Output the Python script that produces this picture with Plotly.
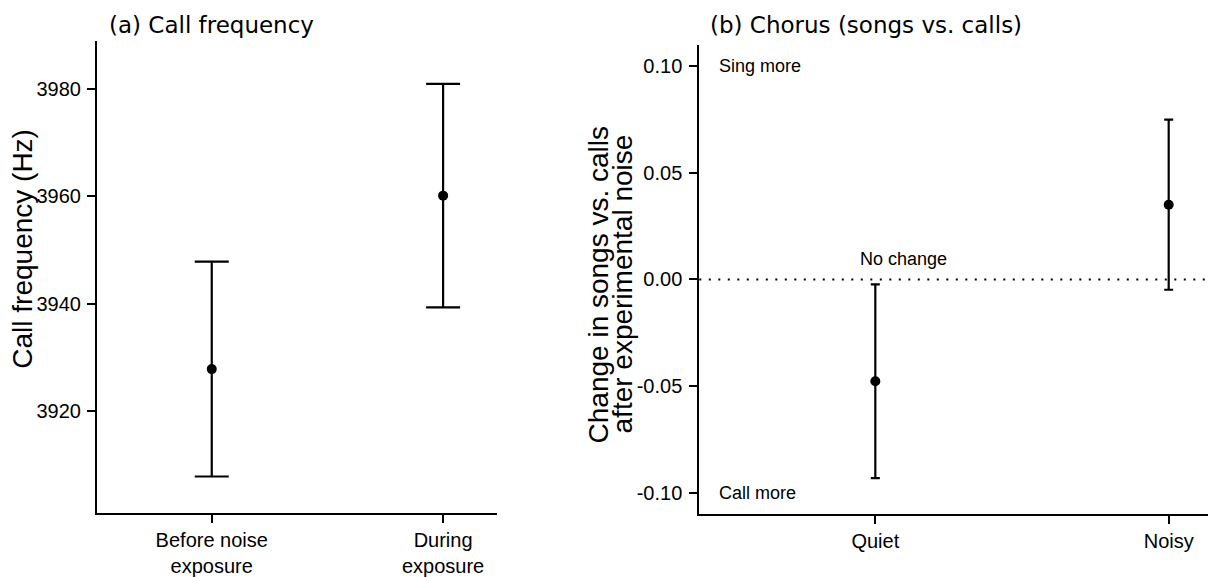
import plotly.graph_objects as go

# ---------------- data ----------------
cats_a = ["Before noise<br>exposure", "During<br>exposure"]
freq_mean = [3927.8, 3960.1]
freq_err_plus = [20.0, 20.8]
freq_err_minus = [20.0, 20.8]

cats_b = ["Quiet", "Noisy"]
chorus_mean = [-0.0476, 0.035]
chorus_err_plus = [0.0453, 0.0398]
chorus_err_minus = [0.0453, 0.0398]

ticks_a = [3920, 3940, 3960, 3980]
ticks_b = [-0.10, -0.05, 0.00, 0.05, 0.10]
ticktext_b = ["-0.10", "-0.05", "0.00", "0.05", "0.10"]

# ---------------- layout helpers ----------------
W, H = 1208, 577
L, R, T, B = 97, 0, 41, 60
PW, PH = W - L - R, H - T - B


def px2x(px):
    return (px - L) / PW


def py2y(py):
    return (H - B - py) / PH


TICKFONT = dict(family="Liberation Sans, Arial, sans-serif", size=20, color="black")
TITLEFONT = dict(family="DejaVu Sans, sans-serif", size=23, color="black")
YTFONT = dict(family="Liberation Sans, Arial, sans-serif", size=28, color="black")
NOTEFONT = dict(family="Liberation Sans, Arial, sans-serif", size=18, color="black")

fig = go.Figure()

fig.add_trace(go.Scatter(
    x=cats_a, y=freq_mean, mode="markers",
    marker=dict(color="black", size=10),
    error_y=dict(type="data", symmetric=False, array=freq_err_plus,
                 arrayminus=freq_err_minus, color="black", thickness=2.2, width=17),
    xaxis="x", yaxis="y", showlegend=False,
))

fig.add_trace(go.Scatter(
    x=cats_b, y=chorus_mean, mode="markers",
    marker=dict(color="black", size=10),
    error_y=dict(type="data", symmetric=False, array=chorus_err_plus,
                 arrayminus=chorus_err_minus, color="black", thickness=2.2, width=4.5),
    xaxis="x2", yaxis="y2", showlegend=False,
))

axis_common = dict(showgrid=False, zeroline=False, showline=True, linecolor="black",
                   linewidth=2, ticks="outside", ticklen=8, tickwidth=2,
                   tickcolor="black", tickfont=TICKFONT)

fig.update_layout(
    width=W, height=H,
    margin=dict(l=L, r=R, t=T, b=B, pad=0),
    paper_bgcolor="white", plot_bgcolor="white",
    xaxis=dict(domain=[0, px2x(497)], type="category", categoryorder="array",
               categoryarray=cats_a, range=[-0.496, 1.233], anchor="y",
               **axis_common),
    yaxis=dict(domain=[py2y(516), 1], range=[3901.0, 3988.9], tickvals=ticks_a,
               anchor="x", ticklabelstandoff=2, **axis_common),
    xaxis2=dict(domain=[px2x(699.3), 1], type="category", categoryorder="array",
                categoryarray=cats_b, range=[-0.6, 1.134], anchor="y2",
                **axis_common),
    yaxis2=dict(domain=[0, py2y(45)], range=[-0.1097, 0.1097], tickvals=ticks_b,
                ticktext=ticktext_b, anchor="x2", ticklabelstandoff=3, **axis_common),
)

# dotted "no change" reference line
fig.add_shape(type="line", xref="x2 domain", x0=0, x1=1, yref="y2", y0=0, y1=0,
              line=dict(color="black", width=2, dash="2px,7.5px"), layer="below")

ann = []
# panel titles
ann.append(dict(text="(a) Call frequency", xref="paper", yref="paper",
                x=px2x(107), y=py2y(25), xanchor="left", yanchor="middle",
                showarrow=False, font=TITLEFONT))
ann.append(dict(text="(b) Chorus (songs vs. calls)", xref="paper", yref="paper",
                x=px2x(708), y=py2y(25), xanchor="left", yanchor="middle",
                showarrow=False, font=TITLEFONT))
# y-axis titles
ann.append(dict(text="Call frequency (Hz)", xref="paper", yref="paper",
                x=px2x(23), y=py2y(250), xanchor="center", yanchor="middle",
                textangle=-90, showarrow=False, font=YTFONT))
ann.append(dict(text="Change in songs vs. calls", xref="paper", yref="paper",
                x=px2x(598), y=py2y(286), xanchor="center", yanchor="middle",
                textangle=-90, showarrow=False, font=YTFONT))
ann.append(dict(text="after experimental noise", xref="paper", yref="paper",
                x=px2x(622), y=py2y(286), xanchor="center", yanchor="middle",
                textangle=-90, showarrow=False, font=YTFONT))
# notes in panel b
ann.append(dict(text="Sing more", xref="paper", yref="y2", x=px2x(717), y=0.10,
                xanchor="left", yanchor="middle", showarrow=False, font=NOTEFONT))
ann.append(dict(text="Call more", xref="paper", yref="y2", x=px2x(717), y=-0.10,
                xanchor="left", yanchor="middle", showarrow=False, font=NOTEFONT))
ann.append(dict(text="No change", xref="paper", yref="y2", x=px2x(903), y=0.0098,
                xanchor="center", yanchor="middle", showarrow=False, font=NOTEFONT))

fig.update_layout(annotations=ann)

fig.write_html("out.html", config={"displayModeBar": False},
               post_script="document.body.style.margin='0px';document.body.style.overflow='hidden';")
